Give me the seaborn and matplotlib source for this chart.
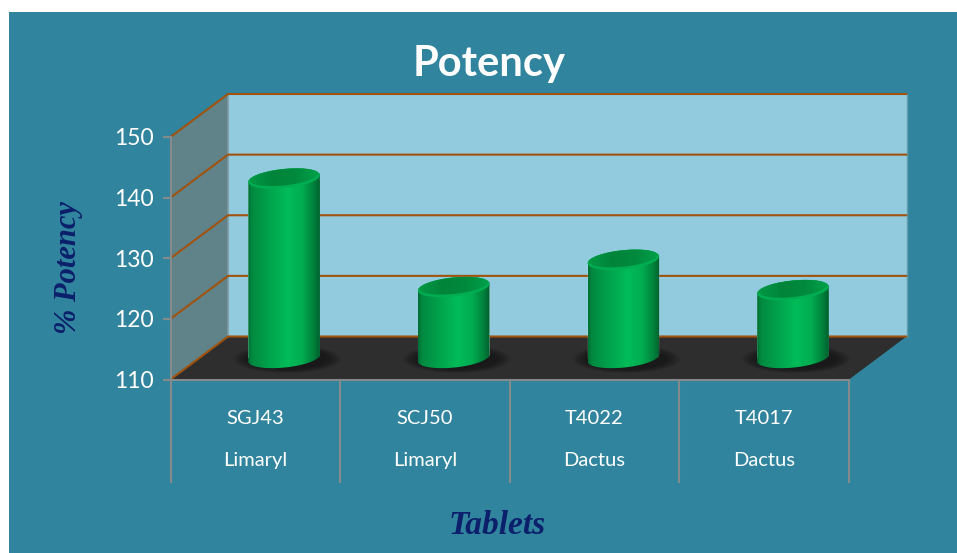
import numpy as np
import pandas as pd
import matplotlib
matplotlib.use("Agg")
import matplotlib.pyplot as plt
import seaborn as sns
from matplotlib.patches import Ellipse, Polygon, Rectangle
from matplotlib.path import Path
from matplotlib.colors import LinearSegmentedColormap

codes = ['SGJ43', 'SCJ50', 'T4022', 'T4017']
brands = ['Limaryl', 'Limaryl', 'Dactus', 'Dactus']
potency = [139.6, 121.7, 126.2, 121.2]
y_ticks = [110, 120, 130, 140, 150]

W, H = 957, 553
TEAL = '#31849D'
GREY = '#858A8C'
BROWN = '#A0530F'
NAVY = '#0B1F6B'

sns.set_theme(style="white")
plt.rcParams['font.family'] = ['Lato', 'DejaVu Sans']


def box(x0, x1, y_top, y_bot):
    # pixel box (origin top left) -> figure fractions
    return [x0 / W, 1 - y_bot / H, (x1 - x0) / W, (y_bot - y_top) / H]


def pixel_axes(fig, zorder):
    ax = fig.add_axes([0, 0, 1, 1], zorder=zorder)
    ax.set_xlim(0, W)
    ax.set_ylim(H, 0)
    ax.axis('off')
    ax.patch.set_alpha(0)
    return ax


def tilted(cx, cy, t, a=36.0, b=9.6, s=3.4):
    return np.column_stack([cx + a * np.cos(t), cy + b * np.sin(t) - s * np.cos(t)])


df = pd.DataFrame({'code': codes, 'potency': potency})

fig = plt.figure(figsize=(W / 100, H / 100), dpi=100, facecolor='white')
bg = pixel_axes(fig, 0)
fg = pixel_axes(fig, 3)

# front plane of the box: carries the axis lines, ticks and labels
FX0, FX1, FY150, FY110 = 170.5, 849.0, 137.0, 379.5
DX, DY = 57.5, 43.0
ax = fig.add_axes(box(FX0, FX1, FY150, FY110), zorder=1)
ax.patch.set_alpha(0)
ax.set_ylim(110, 150)
ax.set_xlim(-0.5, 3.5)

# bars stand halfway into the box
ax_bars = fig.add_axes(box(FX0 + DX / 2, FX1 + DX / 2, FY150 - DY / 2, FY110 - DY / 2), zorder=2)
ax_bars.patch.set_alpha(0)
sns.barplot(data=df, x='code', y='potency', ax=ax_bars, color='#00A850', width=0.422,
            saturation=1, legend=False)
ax_bars.set_ylim(110, 150)
ax_bars.set_xlim(-0.5, 3.5)
ax_bars.axis('off')

# box walls
bg.add_patch(Rectangle((9, 12), W - 9, H - 12, fc=TEAL, ec='none'))
bx0, bx1 = FX0 + DX, FX1 + DX
bg.add_patch(Polygon([(bx0, FY150 - DY), (bx1, FY150 - DY), (bx1, FY110 - DY), (bx0, FY110 - DY)],
                     fc='#92CBDD', ec='none'))
bg.add_patch(Polygon([(FX0, FY150), (bx0, FY150 - DY), (bx0, FY110 - DY), (FX0, FY110)],
                     fc='#5F8389', ec='none'))
bg.add_patch(Polygon([(FX0, FY110), (bx0, FY110 - DY), (bx1, FY110 - DY), (FX1, FY110)],
                     fc='#2E2E2E', ec='none'))
bg.plot([bx0, bx0], [FY150 - DY, FY110 - DY], color='#7F9AA2', lw=1.2)
bg.plot([bx1, bx1], [FY150 - DY, FY110 - DY], color='#5F9DB0', lw=1.0)

# gridlines run along the side wall and the back wall
for v in y_ticks:
    y = H - ax.transData.transform((0, v))[1]
    bg.plot([FX0, bx0, bx1], [y, y - DY, y - DY], color=BROWN, lw=1.5, solid_joinstyle='round')

# cylinders built on top of the seaborn bars
cmap_body = LinearSegmentedColormap.from_list('body', [
    (0.0, '#006F35'), (0.06, '#008A41'), (0.25, '#009E4A'), (0.55, '#00BC59'),
    (0.75, '#00AD50'), (0.92, '#007F3B'), (1.0, '#005E2C')])
cmap_top = LinearSegmentedColormap.from_list('top', ['#009A46', '#00843A', '#008A3D', '#00A24B'])
grad = np.linspace(0, 1, 256).reshape(1, -1)

for bar in ax_bars.patches:
    left, top_px = ax_bars.transData.transform((bar.get_x(), bar.get_y() + bar.get_height()))
    right, base_px = ax_bars.transData.transform((bar.get_x() + bar.get_width(), 110))
    cx = (left + right) / 2
    cy_top = H - top_px
    cy_base = H - base_px
    a = (right - left) / 2

    # soft shadow on the floor
    for grow, alpha in zip(np.linspace(1.0, 0.0, 9), [0.06] * 9):
        bg.add_patch(Ellipse((cx + 3, cy_base + 1), 2 * a + 8 + 28 * grow, 20 + 8 * grow,
                             fc='#111111', ec='none', alpha=alpha + 0.04))

    upper = tilted(cx, cy_top, np.linspace(np.pi, 2 * np.pi, 80), a=a)
    lower = tilted(cx, cy_base, np.linspace(0, np.pi, 80), a=a)
    outline = np.vstack([upper, lower, upper[:1]])
    clip = Polygon(outline, closed=True, transform=fg.transData, fc='none', ec='none')
    fg.add_patch(clip)

    bar.set_clip_path(Path(outline), fg.transData)
    img = fg.imshow(grad, cmap=cmap_body, extent=(left, right, cy_base + 12, cy_top - 12),
                    aspect='auto', zorder=3, interpolation='bilinear')
    img.set_clip_path(clip)

    # lid: light rim with a darker face
    rim = tilted(cx, cy_top, np.linspace(0, 2 * np.pi, 120), a=a)
    fg.add_patch(Polygon(rim, closed=True, fc='#00AE52', ec='none', zorder=4))
    face = tilted(cx, cy_top - 1.3, np.linspace(0, 2 * np.pi, 120), a=a - 1.5, b=8.2)
    face_patch = Polygon(face, closed=True, fc='none', ec='none', zorder=5)
    fg.add_patch(face_patch)
    lid = fg.imshow(grad, cmap=cmap_top, extent=(left, right, cy_top + 12, cy_top - 12),
                    aspect='auto', zorder=5, interpolation='bilinear')
    lid.set_clip_path(face_patch)

fg.set_xlim(0, W)
fg.set_ylim(H, 0)

# axis lines, ticks, labels
for side in ['top', 'right']:
    ax.spines[side].set_visible(False)
for side in ['left', 'bottom']:
    ax.spines[side].set_color(GREY)
    ax.spines[side].set_linewidth(1.5)

ax.set_yticks(y_ticks)
ax.tick_params(axis='y', left=True, length=6, width=1.5, color=GREY, labelcolor='white',
               labelsize=16.5, pad=6)
ax.set_xticks(range(len(codes)))
ax.set_xticklabels(codes)
ax.tick_params(axis='x', which='major', bottom=False, labelcolor='white', labelsize=14.5, pad=16)
ax.set_xticks(np.arange(-0.5, 4), minor=True)
ax.tick_params(axis='x', which='minor', bottom=True, length=74, width=1.5, color=GREY)

for i, brand in enumerate(brands):
    ax.annotate(brand, xy=(i, 0), xycoords=ax.get_xaxis_transform(), xytext=(0, -62),
                textcoords='offset points', ha='center', va='baseline', color='white', fontsize=14.5)

serif = ['Liberation Serif', 'DejaVu Serif']
ax.set_xlabel('Tablets', family=serif, style='italic', weight='bold', fontsize=24, color=NAVY, va='center')
ax.xaxis.set_label_coords(0.481, -0.6)
ax.set_ylabel('% Potency', family=serif, style='italic', weight='bold', fontsize=22, color=NAVY,
              va='center')
ax.yaxis.set_label_coords(-0.151, 0.46)

fig.text(489 / W, 1 - 64 / H, 'Potency', color='white', fontsize=30, weight='bold',
         ha='center', va='center')

fig.savefig('out.png', dpi=100, facecolor='white')
plt.close(fig)
